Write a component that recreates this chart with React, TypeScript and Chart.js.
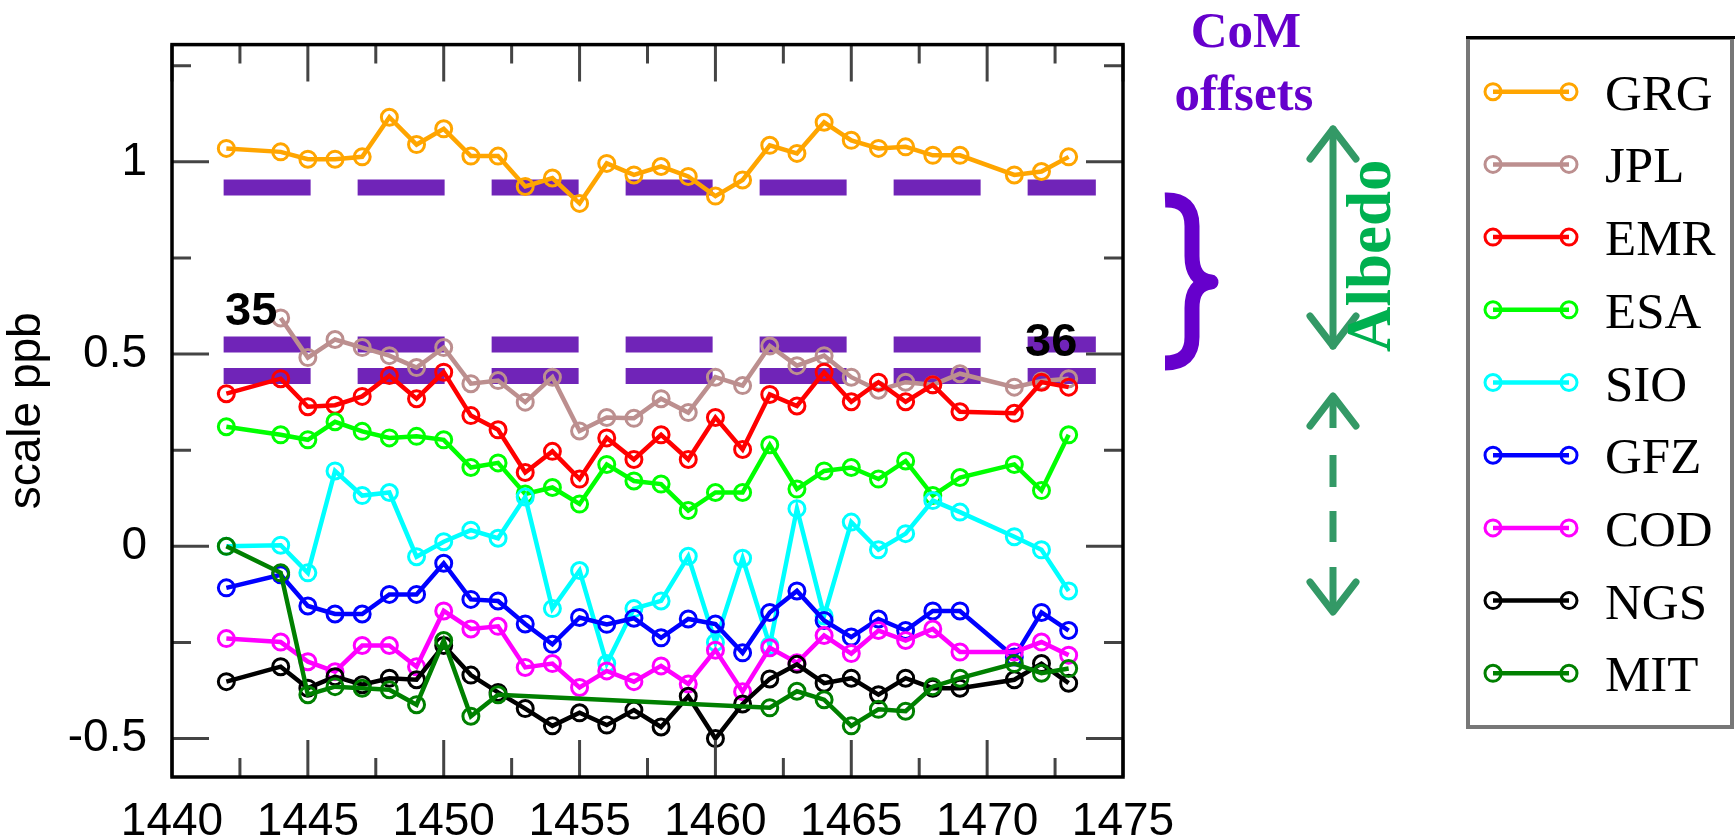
import React, { useEffect, useRef } from 'react';
import { Chart, registerables } from 'chart.js';

Chart.register(...registerables);

// ---- data ----
const weeks = [1442, 1444, 1445, 1446, 1447, 1448, 1449, 1450, 1451, 1452, 1453, 1454, 1455, 1456, 1457, 1458, 1459, 1460, 1461, 1462, 1463, 1464, 1465, 1466, 1467, 1468, 1469, 1471, 1472, 1473];

const GRG = [1.035, 1.026, 1.007, 1.007, 1.013, 1.116, 1.045, 1.086, 1.015, 1.015, 0.936, 0.958, 0.892, 0.996, 0.966, 0.988, 0.962, 0.911, 0.953, 1.043, 1.022, 1.103, 1.056, 1.035, 1.039, 1.017, 1.017, 0.966, 0.975, 1.013];
const JPL = [null, 0.594, 0.491, 0.538, 0.517, 0.496, 0.465, 0.517, 0.423, 0.431, 0.375, 0.44, 0.3, 0.335, 0.333, 0.384, 0.348, 0.44, 0.418, 0.521, 0.47, 0.496, 0.44, 0.406, 0.427, 0.42, 0.449, 0.414, 0.43, 0.436];
const EMR = [0.397, 0.436, 0.363, 0.367, 0.39, 0.444, 0.384, 0.453, 0.34, 0.303, 0.192, 0.247, 0.175, 0.282, 0.226, 0.29, 0.226, 0.335, 0.252, 0.395, 0.365, 0.453, 0.376, 0.427, 0.376, 0.42, 0.35, 0.346, 0.427, 0.414];
const ESA = [0.311, 0.29, 0.277, 0.324, 0.299, 0.282, 0.286, 0.277, 0.205, 0.217, 0.136, 0.153, 0.11, 0.213, 0.17, 0.162, 0.093, 0.14, 0.14, 0.264, 0.149, 0.196, 0.205, 0.175, 0.222, 0.132, 0.179, 0.213, 0.145, 0.29];
const SIO = [0.0, 0.003, -0.069, 0.196, 0.132, 0.14, -0.027, 0.012, 0.042, 0.021, 0.128, -0.162, -0.063, -0.305, -0.162, -0.142, -0.026, -0.25, -0.031, -0.258, 0.098, -0.181, 0.063, -0.009, 0.033, 0.119, 0.089, 0.025, -0.009, -0.116];
const GFZ = [-0.108, -0.074, -0.155, -0.176, -0.176, -0.125, -0.125, -0.044, -0.138, -0.142, -0.202, -0.255, -0.185, -0.203, -0.187, -0.238, -0.189, -0.202, -0.277, -0.172, -0.116, -0.193, -0.236, -0.189, -0.219, -0.168, -0.168, -0.288, -0.172, -0.219];
const COD = [-0.24, -0.249, -0.3, -0.326, -0.258, -0.258, -0.313, -0.168, -0.215, -0.208, -0.315, -0.305, -0.367, -0.324, -0.352, -0.311, -0.358, -0.27, -0.378, -0.264, -0.303, -0.232, -0.279, -0.219, -0.245, -0.215, -0.275, -0.275, -0.249, -0.283];
const NGS = [-0.352, -0.313, -0.369, -0.339, -0.36, -0.343, -0.347, -0.258, -0.335, -0.38, -0.422, -0.467, -0.433, -0.465, -0.426, -0.47, -0.39, -0.5, -0.41, -0.345, -0.307, -0.356, -0.343, -0.386, -0.343, -0.369, -0.369, -0.347, -0.305, -0.356];
const MIT = [0.0, -0.069, -0.386, -0.365, -0.369, -0.373, -0.412, -0.245, -0.442, -0.386, null, null, null, null, null, null, null, null, null, -0.42, -0.377, -0.399, -0.467, -0.424, -0.429, -0.365, -0.343, -0.305, -0.33, -0.318];

const seriesNames = ['GRG', 'JPL', 'EMR', 'ESA', 'SIO', 'GFZ', 'COD', 'NGS', 'MIT'];
const seriesValues = [GRG, JPL, EMR, ESA, SIO, GFZ, COD, NGS, MIT];
const seriesColors = ['#FFA500', '#BC8F8F', '#FF0000', '#00FF00', '#00FFFF', '#0000FF', '#FF00FF', '#000000', '#008000'];

const xTicks = [1440, 1445, 1450, 1455, 1460, 1465, 1470, 1475];
const xMinorTicks = [1442.5, 1447.5, 1452.5, 1457.5, 1462.5, 1467.5, 1472.5];
const yTicks = [-0.5, 0, 0.5, 1];
const yMinorTicks = [-0.25, 0.25, 0.75, 1.25];

const comOffsetLevels = [0.933, 0.525, 0.443];
const comOffsetSpan = [1441.9, 1474];

const yearLabels = ['35', '36'];

// ---- styles ----
const SANS = '"Liberation Sans", Arial, sans-serif';
const SERIF = '"Liberation Serif", "Times New Roman", serif';
const PURPLE = '#6600CC';
const BAND = '#7024B8';
const ARROW = '#339966';
const ALBEDO = '#00B050';

const framePlugin = {
  id: 'frameTicks',
  afterDatasetsDraw(chart: any) {
    const { ctx, chartArea: a, scales } = chart;
    const xs = scales.x;
    const ys = scales.y;
    ctx.save();
    ctx.strokeStyle = '#444';
    ctx.lineWidth = 3;
    ctx.lineCap = 'butt';
    const major = 37;
    const minor = 19;
    const vt = (v: number, len: number) => {
      const x = xs.getPixelForValue(v);
      ctx.beginPath();
      ctx.moveTo(x, a.bottom);
      ctx.lineTo(x, a.bottom - len);
      ctx.moveTo(x, a.top);
      ctx.lineTo(x, a.top + len);
      ctx.stroke();
    };
    const ht = (v: number, len: number) => {
      const y = ys.getPixelForValue(v);
      ctx.beginPath();
      ctx.moveTo(a.left, y);
      ctx.lineTo(a.left + len, y);
      ctx.moveTo(a.right, y);
      ctx.lineTo(a.right - len, y);
      ctx.stroke();
    };
    xTicks.forEach((v) => vt(v, major));
    xMinorTicks.forEach((v) => vt(v, minor));
    yTicks.forEach((v) => ht(v, major));
    yMinorTicks.forEach((v) => ht(v, minor));
    ctx.strokeStyle = '#000';
    ctx.lineWidth = 3.5;
    ctx.strokeRect(a.left, a.top, a.right - a.left, a.bottom - a.top);

    // week labels
    ctx.fillStyle = '#000';
    ctx.font = `bold 47px ${SANS}`;
    ctx.textBaseline = 'alphabetic';
    ctx.textAlign = 'left';
    ctx.fillText(yearLabels[0], 225, 325);
    ctx.fillText(yearLabels[1], 1025, 356);
    ctx.restore();
  },
};

const annotationPlugin = {
  id: 'sideAnnotations',
  afterDraw(chart: any) {
    const { ctx } = chart;
    ctx.save();
    // CoM offsets
    ctx.fillStyle = PURPLE;
    ctx.font = `bold 51px ${SERIF}`;
    ctx.textAlign = 'center';
    ctx.textBaseline = 'alphabetic';
    ctx.fillText('CoM', 1246, 47);
    ctx.fillText('offsets', 1244, 110);

    // brace
    ctx.strokeStyle = PURPLE;
    ctx.lineWidth = 15;
    ctx.lineCap = 'butt';
    ctx.lineJoin = 'round';
    ctx.beginPath();
    ctx.moveTo(1165, 200);
    ctx.quadraticCurveTo(1192, 199, 1192, 226);
    ctx.lineTo(1192, 256);
    ctx.quadraticCurveTo(1192, 280, 1211, 282);
    ctx.quadraticCurveTo(1192, 284, 1192, 308);
    ctx.lineTo(1192, 337);
    ctx.quadraticCurveTo(1192, 363, 1165, 363);
    ctx.stroke();

    // Albedo arrows
    ctx.strokeStyle = ARROW;
    ctx.lineWidth = 7;
    ctx.lineCap = 'round';
    ctx.lineJoin = 'round';
    const cx = 1333;
    const head = (tipY: number, dir: number) => {
      ctx.beginPath();
      ctx.moveTo(cx - 23, tipY + dir * 30);
      ctx.lineTo(cx, tipY);
      ctx.lineTo(cx + 23, tipY + dir * 30);
      ctx.stroke();
    };
    ctx.beginPath();
    ctx.moveTo(cx, 129);
    ctx.lineTo(cx, 346);
    ctx.stroke();
    head(129, 1);
    head(346, -1);

    ctx.lineCap = 'butt';
    const dashes = [[396, 428], [455, 487], [511, 542], [567, 612]];
    dashes.forEach(([y0, y1]) => {
      ctx.beginPath();
      ctx.moveTo(cx, y0);
      ctx.lineTo(cx, y1);
      ctx.stroke();
    });
    ctx.lineCap = 'round';
    head(396, 1);
    head(612, -1);

    // Albedo text
    ctx.fillStyle = ALBEDO;
    ctx.font = `bold 63px ${SERIF}`;
    ctx.textAlign = 'left';
    ctx.textBaseline = 'alphabetic';
    ctx.translate(1390, 352);
    ctx.rotate(-Math.PI / 2);
    ctx.fillText('Albedo', 0, 0);
    ctx.restore();

    // legend box
    ctx.save();
    ctx.strokeStyle = '#777';
    ctx.lineWidth = 4;
    ctx.strokeRect(1468, 38, 264, 689);
    ctx.strokeStyle = '#000';
    ctx.lineWidth = 3;
    ctx.beginPath();
    ctx.moveTo(1466, 37.5);
    ctx.lineTo(1735, 37.5);
    ctx.stroke();
    const items = chart.data.datasets.filter((d: any) => seriesNames.includes(d.label));
    items.forEach((d: any, i: number) => {
      const y = 91.7 + i * 72.7;
      ctx.strokeStyle = d.borderColor;
      ctx.lineWidth = 4.5;
      ctx.beginPath();
      ctx.moveTo(1493, y);
      ctx.lineTo(1569, y);
      ctx.stroke();
      ctx.lineWidth = 3;
      [1493, 1569].forEach((x) => {
        ctx.beginPath();
        ctx.arc(x, y, 8, 0, Math.PI * 2);
        ctx.stroke();
      });
      ctx.fillStyle = '#000';
      ctx.font = `51px ${SERIF}`;
      ctx.textAlign = 'left';
      ctx.textBaseline = 'alphabetic';
      ctx.fillText(d.label, 1605, y + 18);
    });
    ctx.restore();
  },
};

export default function App() {
  const ref = useRef<HTMLCanvasElement>(null);
  useEffect(() => {
    const canvas = ref.current;
    if (!canvas) return;
    const lineSets = seriesNames.map((name, i) => ({
      label: name,
      data: weeks.map((w, j) => ({ x: w, y: seriesValues[i][j] })),
      borderColor: seriesColors[i],
      backgroundColor: seriesColors[i],
      borderWidth: 4.5,
      pointRadius: 8,
      pointBorderWidth: 3,
      pointBackgroundColor: 'rgba(0,0,0,0)',
      pointBorderColor: seriesColors[i],
      tension: 0,
      spanGaps: true,
      order: 10 - i,
    }));
    const bandSets = comOffsetLevels.map((level, k) => ({
      label: 'offset' + k,
      data: comOffsetSpan.map((x) => ({ x, y: level })),
      borderColor: BAND,
      borderWidth: 16,
      borderDash: [87, 47],
      borderCapStyle: 'butt',
      pointRadius: 0,
      tension: 0,
      order: 20,
    }));
    const chart = new Chart(canvas, {
      type: 'line',
      data: { datasets: [...lineSets, ...bandSets] as any },
      options: {
        animation: false,
        responsive: false,
        devicePixelRatio: 1,
        layout: { padding: { left: 0, right: 612, top: 34, bottom: 0 } },
        plugins: { legend: { display: false }, tooltip: { enabled: false } },
        scales: {
          x: {
            type: 'linear',
            min: 1440,
            max: 1475,
            grid: { display: false },
            border: { display: false },
            ticks: {
              color: '#000',
              font: { family: SANS, size: 46 },
              padding: 10,
              maxRotation: 0,
              autoSkip: false,
              callback: (v: any) => String(v),
            },
            afterBuildTicks: (s: any) => {
              s.ticks = xTicks.map((v) => ({ value: v }));
            },
            afterFit: (s: any) => {
              s.height = 59;
            },
          },
          y: {
            type: 'linear',
            min: -0.6,
            max: 1.305,
            grid: { display: false },
            border: { display: false },
            ticks: {
              color: '#000',
              font: { family: SANS, size: 46 },
              padding: 17,
              callback: (v: any) => String(v),
            },
            afterBuildTicks: (s: any) => {
              s.ticks = yTicks.map((v) => ({ value: v }));
            },
            afterFit: (s: any) => {
              s.width = 172;
            },
            title: {
              display: true,
              text: 'scale ppb',
              color: '#000',
              font: { family: SANS, size: 46 },
              padding: 0,
            },
          },
        },
      } as any,
      plugins: [framePlugin, annotationPlugin],
    });
    return () => chart.destroy();
  }, []);
  return (
    <div style={{ position: 'fixed', left: 0, top: 0, width: 1735, height: 836, background: '#fff', overflow: 'hidden' }}>
      <canvas ref={ref} width={1735} height={836} style={{ display: 'block', width: 1735, height: 836 }} />
    </div>
  );
}
